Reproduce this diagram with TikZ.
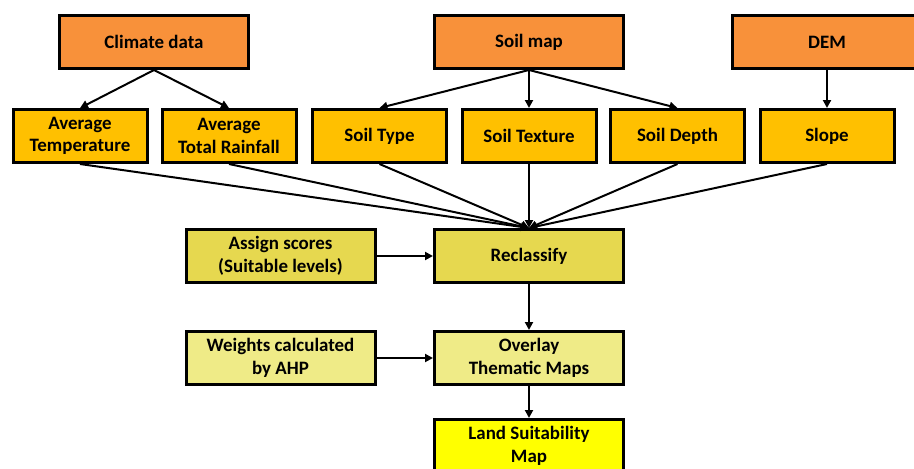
\documentclass[tikz,border=0pt]{standalone}
\usepackage{fontspec}
\setmainfont{Carlito}
\usepackage{tikz}
\usepackage{xcolor}
\usetikzlibrary{arrows.meta}
\definecolor{srcorange}{HTML}{F8913A}
\definecolor{layergold}{HTML}{FFC000}
\definecolor{reclassolive}{HTML}{E6D84F}
\definecolor{overlaypale}{HTML}{EFEB87}
\definecolor{resultyellow}{HTML}{FFFF00}
\tikzset{
    base-box/.style = {draw=black, line width=2.25pt, rectangle, align=center, text=black, font=\fontsize{14.2}{17}\selectfont\bfseries, minimum height=39.75pt, inner sep=2pt},
    source-box/.style = {base-box, fill=srcorange, minimum width=141.75pt},
    layer-box/.style = {base-box, fill=layergold, minimum width=100.5pt},
    step-box/.style = {base-box, fill=reclassolive, minimum width=141.75pt},
    overlay-box/.style = {base-box, fill=overlaypale, minimum width=141.75pt},
    result-box/.style = {base-box, fill=resultyellow, minimum width=141.75pt},
    flow-arrow/.style = {-{Triangle[length=6pt,width=6pt]}, line width=1.5pt},
}

\begin{document}
\begin{tikzpicture}[x=0.75pt, y=-0.75pt]
\useasboundingbox (0,0) rectangle (914,468);
\clip (0,0) rectangle (914,468);
% sources
\node [source-box] (climate) at (154,42) {Climate data};
\node [source-box] (soilmap) at (529,42) {Soil map};
\node [source-box] (dem) at (827,42) {DEM};
% thematic layers
\node [layer-box] (avgtemp) at (80,136) {Average\\Temperature};
\node [layer-box] (avgrain) at (229,136) {Average\\Total Rainfall};
\node [layer-box] (soiltype) at (379.5,136) {Soil Type};
\node [layer-box] (soiltexture) at (529,136) {Soil Texture};
\node [layer-box] (soildepth) at (677.5,136) {Soil Depth};
\node [layer-box] (slope) at (827,136) {Slope};
% processing
\node [step-box] (reclassify) at (529,256) {Reclassify};
\node [step-box] (scores) at (280.5,256) {Assign scores\\(Suitable levels)};
\node [overlay-box] (overlay) at (529,358) {Overlay\\Thematic Maps};
\node [overlay-box] (weights) at (280.5,358) {Weights calculated\\by AHP};
\node [result-box] (landmap) at (529,446) {Land Suitability\\Map};

\draw [flow-arrow] (climate.south) -- (avgtemp.north);
\draw [flow-arrow] (climate.south) -- (avgrain.north);
\draw [flow-arrow] (soilmap.south) -- (soiltype.north);
\draw [flow-arrow] (soilmap.south) -- (soiltexture.north);
\draw [flow-arrow] (soilmap.south) -- (soildepth.north);
\draw [flow-arrow] (dem.south) -- (slope.north);
\foreach \layer in {avgtemp, avgrain, soiltype, soiltexture, soildepth, slope}
    \draw [flow-arrow] (\layer.south) -- (reclassify.north);
\draw [flow-arrow] (scores.east) -- (reclassify.west);
\draw [flow-arrow] (reclassify.south) -- (overlay.north);
\draw [flow-arrow] (weights.east) -- (overlay.west);
\draw [flow-arrow] (overlay.south) -- (landmap.north);
\end{tikzpicture}
\end{document}
